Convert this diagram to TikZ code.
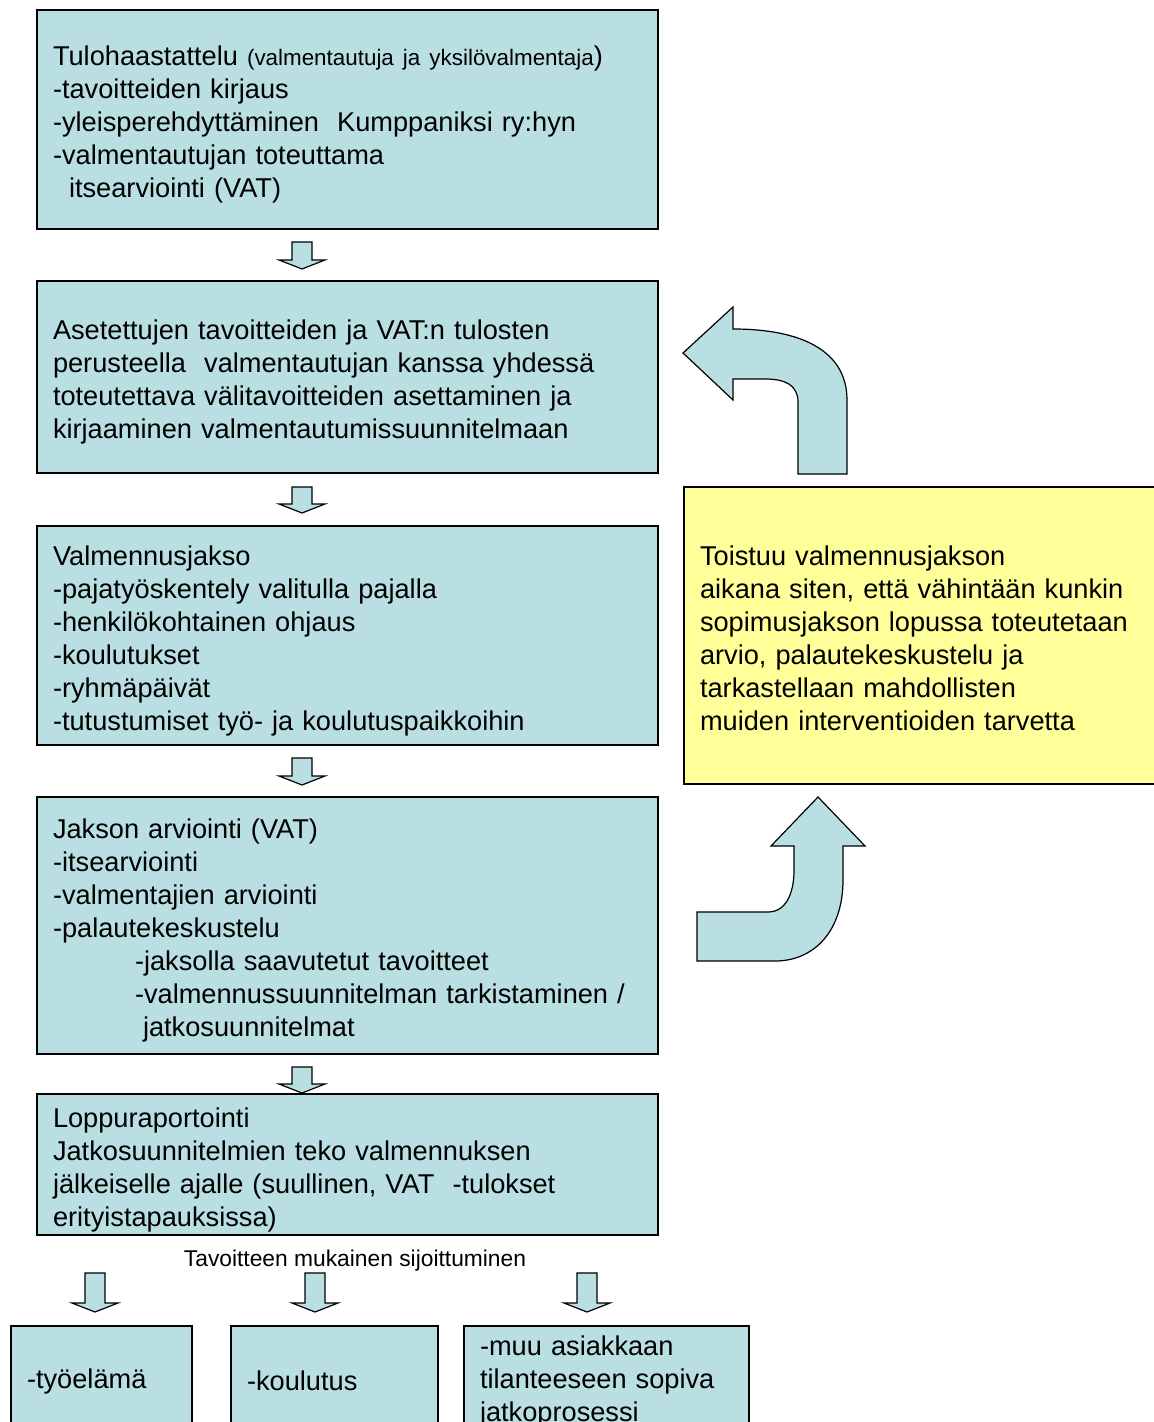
\documentclass[tikz,border=0pt]{standalone}
\usepackage{fontspec}
\setmainfont{Liberation Sans}
\usetikzlibrary{calc}
\definecolor{boxblue}{RGB}{185,223,227}
\definecolor{boxyellow}{RGB}{255,255,153}
\tikzset{
  plain box/.style = {draw=black, line width=1pt, fill=boxblue, rectangle, align=left,
    inner xsep=8pt, inner ysep=0pt, minimum width=310.5pt, text width=294.5pt},
  stage box/.style = {plain box, execute at begin node={\rule{0pt}{15pt}}},
  note box/.style = {plain box, fill=boxyellow, minimum width=241pt, text width=225pt,
    execute at begin node={\rule{0pt}{13pt}}},
  end box/.style = {plain box, minimum height=53pt, execute at begin node={\rule{0pt}{12pt}}},
  arrow body/.style = {draw=black, line width=0.6pt, fill=boxblue, line join=miter},
  blockdown/.pic = {
    \draw[arrow body] (-10,0) -- (-10,#1-9) -- (-23,#1-9) -- (0,#1)
      -- (23,#1-9) -- (10,#1-9) -- (10,0) -- cycle;
  }
}

\begin{document}
\begin{tikzpicture}[
  x=0.5pt, y=-0.5pt,
  every node/.style = {font=\fontsize{13.6}{16.5}\selectfont},
]
\useasboundingbox (0,0) rectangle (1154,1422);

\node[stage box, minimum height=109.5pt] (tulo) at (347.5,119.5)
  {Tulohaastattelu {\fontsize{11.2}{16.5}\selectfont(valmentautuja ja yksilövalmentaja})\\
   -tavoitteiden kirjaus\\
   -yleisperehdyttäminen\ \ Kumppaniksi ry:hyn\\
   -valmentautujan toteuttama\\
   \hspace*{8pt}itsearviointi (VAT)};
\node[stage box, minimum height=96pt] (asetus) at (347.5,377)
  {Asetettujen tavoitteiden ja VAT:n tulosten\\
   perusteella\ \ valmentautujan kanssa yhdessä\\
   toteutettava välitavoitteiden asettaminen ja\\
   kirjaaminen valmentautumissuunnitelmaan};
\node[stage box, minimum height=109.5pt] (jakso) at (347.5,635.5)
  {Valmennusjakso\\
   -pajatyöskentely valitulla pajalla\\
   -henkilökohtainen ohjaus\\
   -koulutukset\\
   -ryhmäpäivät\\
   -tutustumiset työ- ja koulutuspaikkoihin};
\node[stage box, minimum height=128.5pt] (arvio) at (347.5,925.5)
  {Jakson arviointi (VAT)\\
   -itsearviointi\\
   -valmentajien arviointi\\
   -palautekeskustelu\\
   \hspace*{41pt}-jaksolla saavutetut tavoitteet\\
   \hspace*{41pt}-valmennussuunnitelman tarkistaminen /\\
   \hspace*{45pt}jatkosuunnitelmat};
\node[stage box, minimum height=70.5pt] (loppu) at (347.5,1164.5)
  {Loppuraportointi\\
   Jatkosuunnitelmien teko valmennuksen\\
   jälkeiselle ajalle (suullinen, VAT\ \ -tulokset\\
   erityistapauksissa)};

\node[note box, minimum height=148.5pt] (toistuu) at (925,635.5)
  {Toistuu valmennusjakson\\
   aikana siten, että vähintään kunkin\\
   sopimusjakson lopussa toteutetaan\\
   arvio, palautekeskustelu ja\\
   tarkastellaan mahdollisten\\
   muiden interventioiden tarvetta};

\node[font=\fontsize{11.4}{13}\selectfont] (sijoitus) at (355,1261)
  {Tavoitteen mukainen sijoittuminen};
\node[end box, minimum width=90.5pt, text width=74.5pt] (tyo) at (101.5,1379) {-työelämä};
\node[end box, minimum width=103.5pt, text width=87.5pt] (koulu) at (334.5,1379) {-koulutus};
\node[end box, minimum width=142.5pt, text width=126.5pt] (muu) at (606.5,1379)
  {-muu asiakkaan\\ tilanteeseen sopiva\\ jatkoprosessi};

\path ($(tulo.south)+(-45.5,12)$) pic {blockdown=27};
\path ($(asetus.south)+(-45.5,13)$) pic {blockdown=26};
\path ($(jakso.south)+(-45.5,12)$) pic {blockdown=27};
\path ($(arvio.south)+(-45.5,12)$) pic {blockdown=26};
\path ($(tyo.north)+(-6.5,-52)$) pic {blockdown=39};
\path ($(koulu.north)+(-19.5,-52)$) pic {blockdown=39};
\path ($(muu.north)+(-19.5,-52)$) pic {blockdown=39};

\draw[arrow body] (798,474) -- (798,402) .. controls (798,385) and (785,379) .. (765,379)
  -- (733,379) -- (733,400) -- (683,353) -- (733,307) -- (733,329)
  .. controls (800,329) and (847,350) .. (847,400) -- (847,474) -- cycle;
\draw[arrow body] (697,912) -- (768,912) .. controls (785,912) and (794,895) .. (794,870)
  -- (794,846) -- (771,846) -- (818,797) -- (865,846) -- (843,846) -- (843,880)
  .. controls (843,930) and (815,961) .. (775,961) -- (697,961) -- cycle;
\end{tikzpicture}
\end{document}
